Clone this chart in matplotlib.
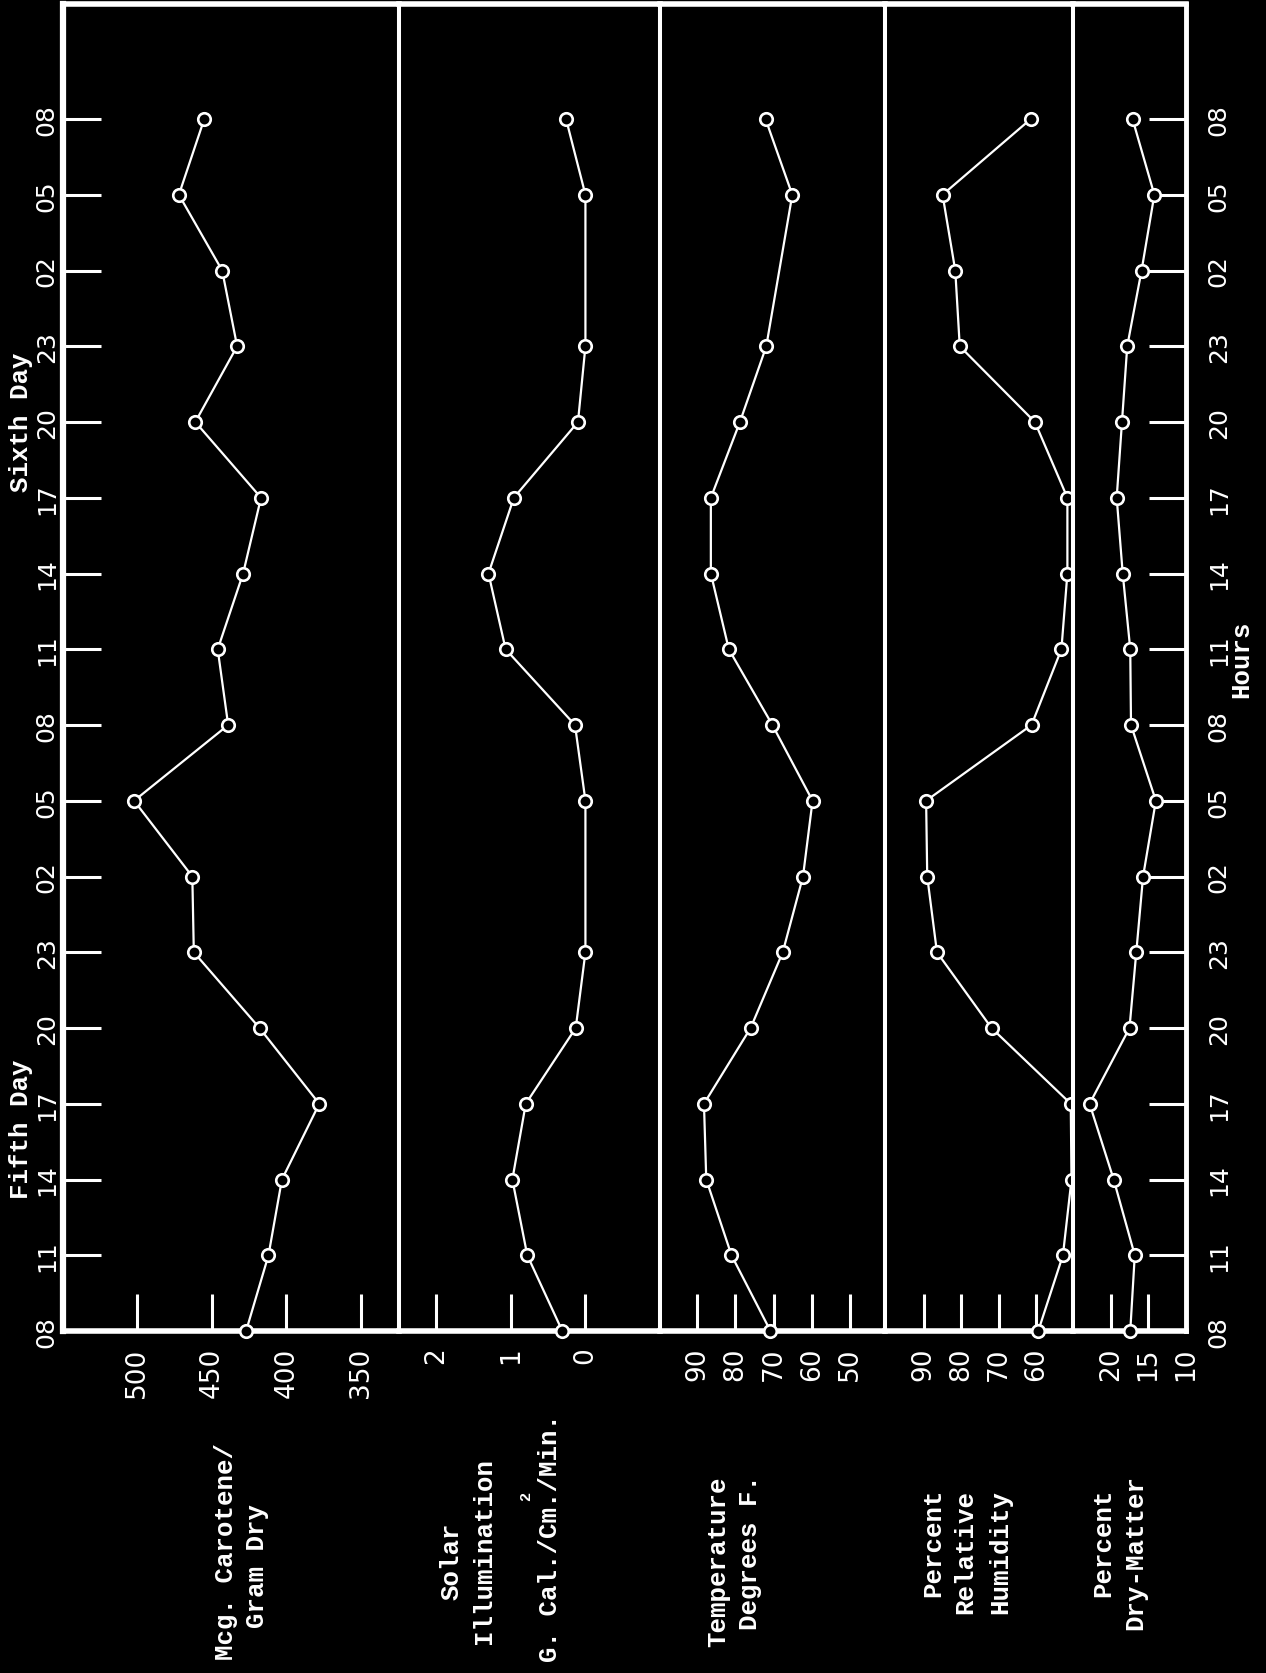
import numpy as np
import matplotlib
matplotlib.use("Agg")
import matplotlib.pyplot as plt

# ---------------- data ----------------
hours = ["08", "11", "14", "17", "20", "23", "02", "05", "08",
         "11", "14", "17", "20", "23", "02", "05", "08"]

carotene = [427, 412, 403, 378, 418, 462, 463, 502, 439,
            446, 429, 417, 461, 433, 443, 472, 455]
solar = [0.31, 0.78, 0.98, 0.80, 0.13, 0.0, None, 0.0, 0.14,
         1.07, 1.30, 0.96, 0.10, 0.0, None, 0.0, 0.26]
temperature = [70.8, 81, 87.6, 88.2, 76, 67.6, 62.3, 59.8, 70.3,
               81.7, 86.4, 86.4, 78.8, 71.9, None, 65.1, 72.1]
humidity = [59.4, 52.8, 50.5, 50.7, 71.9, 86.5, 89.1, 89.4, 61.2,
            53.2, 51.6, 51.6, 60.3, 80.4, 81.6, 85.0, 61.4]
dry_matter = [17.4, 16.8, 19.6, 22.8, 17.5, 16.6, 15.7, 14.0, 17.3,
              17.4, 18.4, 19.2, 18.5, 17.8, 15.9, 14.2, 17.1]

carotene_ticks = [500, 450, 400, 350]
solar_ticks = [2, 1, 0]
temp_ticks = [90, 80, 70, 60, 50]
humid_ticks = [90, 80, 70, 60]
dry_ticks = [20, 15, 10]

# ---------------- layout ----------------
W, H = 1266, 1674
fig = plt.figure(figsize=(W / 100, H / 100), dpi=100, facecolor="black")

frame_top, frame_bot = 5, 1332
edges = [63, 399, 660, 885, 1073, 1186]
limits = [(549.6, 324.6), (2.5, -1.0), (99.7, 40.85), (100.4, 50.1), (25.0, 10.0)]
series = [carotene, solar, temperature, humidity, dry_matter]
ticks = [carotene_ticks, solar_ticks, temp_ticks, humid_ticks, dry_ticks]

num_font = ["Liberation Sans Narrow", "DejaVu Sans"]
txt_font = ["Liberation Mono", "DejaVu Sans Mono"]

pos = np.arange(len(hours))
ytop = 16 + (120 - 5) / 75.75

axes = []
for i in range(5):
    x0, x1 = edges[i], edges[i + 1]
    ax = fig.add_axes([x0 / W, 1 - frame_bot / H, (x1 - x0) / W, (frame_bot - frame_top) / H])
    ax.set_facecolor("black")
    ax.set_xlim(*limits[i])
    ax.set_ylim(0, ytop)
    for side, sp in ax.spines.items():
        sp.set_color("white")
        sp.set_linewidth(4.0 if side in ("top", "bottom") else 2.9)
    if i == 0:
        ax.spines["left"].set_linewidth(4.5)
    if i == 4:
        ax.spines["right"].set_linewidth(3.5)

    vals = series[i]
    xs = [v for v in vals if v is not None]
    ys = [p for p, v in zip(pos, vals) if v is not None]
    ax.plot(xs, ys, "-o", color="white", lw=1.6, ms=9, mfc="black",
            mec="white", mew=1.9, clip_on=False, zorder=4)

    ax.set_xticks(ticks[i])
    ax.set_xticklabels([str(t) for t in ticks[i]], rotation=90,
                       family=num_font, fontsize=19, color="white")
    ax.tick_params(axis="x", direction="in", length=26.5, width=2.2,
                   color="white", pad=11, top=False, bottom=True)

    ax.set_yticks(pos)
    if i == 0:
        ax.set_yticklabels(hours, rotation=90, family=num_font, fontsize=18,
                           color="white", va="center")
        ax.tick_params(axis="y", direction="in", length=27, width=2.2,
                       color="white", pad=3, left=True, right=False)
    elif i == 4:
        ax.yaxis.tick_right()
        ax.set_yticklabels(hours, rotation=90, family=num_font, fontsize=18,
                           color="white", va="center")
        ax.tick_params(axis="y", direction="in", length=27, width=2.2,
                       color="white", pad=15, left=False, right=True,
                       labelright=True, labelleft=False)
    else:
        ax.tick_params(axis="y", left=False, right=False,
                       labelleft=False, labelright=False)
    axes.append(ax)


def ftext(x, y, s, size=18.5, fam=txt_font, weight="bold"):
    fig.text(x / W, 1 - y / H, s, rotation=90, ha="center", va="center",
             color="white", fontsize=size, family=fam, weight=weight)


# axis titles (rotated)
ftext(226, 1552, "Mcg. Carotene/")
ftext(257, 1566, "Gram Dry")

ftext(452, 1561, "Solar")
ftext(484, 1551, "Illumination")
ftext(526, 1496, "2", size=11)
ftext(550, 1538, "G. Cal./Cm./Min.")

ftext(718, 1562, "Temperature")
ftext(750, 1553, "Degrees F.")

ftext(933, 1543, "Percent")
ftext(965, 1552, "Relative")
ftext(1000, 1552, "Humidity")

ftext(1103, 1543, "Percent")
ftext(1135, 1553, "Dry-Matter")

ftext(1241, 659, "Hours")
ftext(21, 1129, "Fifth Day")
ftext(21, 422, "Sixth Day")

fig.savefig("out.png", dpi=100, facecolor="black")
